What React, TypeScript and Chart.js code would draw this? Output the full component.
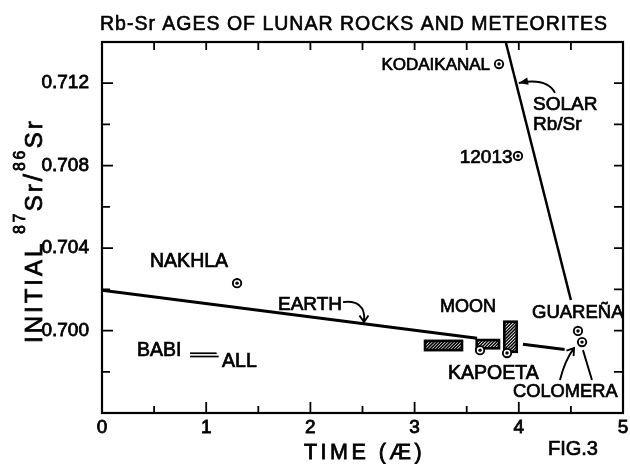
import React, { useEffect, useRef } from 'react';
import { Chart, registerables } from 'chart.js';

Chart.register(...registerables);

const FONT = "'Liberation Sans', Arial, sans-serif";

// ---- data (time in AE, initial 87Sr/86Sr) ----
const earthX1 = [0, 3.6];
const earthY1 = [0.70196, 0.69963];
const earthX2 = [4.04, 4.44];
const earthY2 = [0.69934, 0.69908];

const solarX = [3.877, 4.5];
const solarY = [0.71395, 0.70148];

const babiX = [0.845, 1.1];
const babiY = [0.6989, 0.6989];
const allX = [0.845, 1.12];
const allY = [0.69874, 0.69874];

const circleNames = ['KODAIKANAL', '12013', 'NAKHLA', 'KAPOETA', 'MOON', 'GUAREÑA', 'COLOMERA'];
const circleX = [3.81, 3.992, 1.296, 3.628, 3.887, 4.568, 4.607];
const circleY = [0.71293, 0.70847, 0.7023, 0.69905, 0.69891, 0.69998, 0.69944];

const boxX0 = [3.1, 3.596, 3.861];
const boxX1 = [3.455, 3.81, 3.98];
const boxY0 = [0.69905, 0.69914, 0.69897];
const boxY1 = [0.6995, 0.69954, 0.70043];

const xMin = 0;
const xMax = 5;
const yMin = 0.696;
const yMax = 0.714;

const titleText = 'Rb-Sr AGES OF LUNAR ROCKS AND METEORITES';
const xTitle = 'TIME (Æ)';

const labelText = ['KODAIKANAL', 'SOLAR', 'Rb/Sr', '12013', 'NAKHLA', 'EARTH', 'BABI', 'ALL', 'MOON', 'GUAREÑA', 'KAPOETA', 'COLOMERA', 'FIG.3'];
const labelX = [3.724, 4.136, 4.136, 3.94, 0.461, 1.689, 0.336, 1.152, 3.244, 4.127, 3.321, 3.944, 4.28];
const labelY = [0.71293, 0.71104, 0.71007, 0.70847, 0.7034, 0.70131, 0.69908, 0.69857, 0.70121, 0.70095, 0.69799, 0.69711, 0.69432];
const labelAlign = ['right', 'left', 'left', 'right', 'left', 'left', 'left', 'left', 'left', 'left', 'left', 'left', 'left'];
const labelSize = [17, 19, 19, 19, 19.5, 19, 19.5, 19.5, 18, 18.5, 19.5, 18.3, 20];

// arrows (data coordinates)
const earthArrow = [[2.313, 0.70138], [2.438, 0.70148], [2.534, 0.70119], [2.514, 0.70046]];
const solarArrow = [[4.347, 0.71153], [4.27, 0.71228], [4.0, 0.71201]];
const colomeraArrow = [[4.395, 0.6976], [4.443, 0.69857], [4.53, 0.69915]];
const colomeraLine = [[4.702, 0.6976], [4.616, 0.69905]];

function pts(xs: number[], ys: number[]) {
  return xs.map((x, i) => ({ x, y: ys[i] }));
}

function lineDs(xs: number[], ys: number[], w: number) {
  return {
    data: pts(xs, ys),
    showLine: true,
    borderColor: '#000',
    borderWidth: w,
    pointRadius: 0,
    fill: false,
  };
}

function arrowHead(ctx: CanvasRenderingContext2D, fx: number, fy: number, tx: number, ty: number, len: number, filled: boolean) {
  const a = Math.atan2(ty - fy, tx - fx);
  const sp = filled ? 0.38 : 0.6;
  const x1 = tx - len * Math.cos(a - sp);
  const y1 = ty - len * Math.sin(a - sp);
  const x2 = tx - len * Math.cos(a + sp);
  const y2 = ty - len * Math.sin(a + sp);
  ctx.beginPath();
  if (filled) {
    ctx.moveTo(tx, ty);
    ctx.lineTo(x1, y1);
    ctx.lineTo(x2, y2);
    ctx.closePath();
    ctx.fill();
  } else {
    ctx.moveTo(x1, y1);
    ctx.lineTo(tx, ty);
    ctx.lineTo(x2, y2);
    ctx.stroke();
  }
}

function boldText(ctx: CanvasRenderingContext2D, txt: string, x: number, y: number, w: number) {
  ctx.fillText(txt, x, y);
  ctx.lineWidth = w;
  ctx.strokeText(txt, x, y);
}

const annotPlugin = {
  id: 'annot',
  beforeDatasetsDraw(chart: any) {
    const { ctx } = chart;
    const xs = chart.scales.x;
    const ys = chart.scales.y;
    ctx.save();
    for (let i = 0; i < boxX0.length; i++) {
      const l = xs.getPixelForValue(boxX0[i]);
      const r = xs.getPixelForValue(boxX1[i]);
      const t = ys.getPixelForValue(boxY1[i]);
      const b = ys.getPixelForValue(boxY0[i]);
      ctx.fillStyle = '#fff';
      ctx.fillRect(l, t, r - l, b - t);
      ctx.save();
      ctx.beginPath();
      ctx.rect(l, t, r - l, b - t);
      ctx.clip();
      ctx.strokeStyle = '#000';
      ctx.lineWidth = 1.5;
      for (let k = -60; k < (r - l) + 60; k += 3.2) {
        ctx.beginPath();
        ctx.moveTo(l + k, b);
        ctx.lineTo(l + k + (b - t), t);
        ctx.stroke();
      }
      ctx.restore();
      ctx.strokeStyle = '#000';
      ctx.lineWidth = 2.6;
      ctx.strokeRect(l, t, r - l, b - t);
    }
    ctx.restore();
  },
  afterDraw(chart: any) {
    const { ctx, chartArea } = chart;
    const xs = chart.scales.x;
    const ys = chart.scales.y;
    const X = (v: number) => xs.getPixelForValue(v);
    const Y = (v: number) => ys.getPixelForValue(v);
    ctx.save();
    ctx.strokeStyle = '#000';
    ctx.fillStyle = '#000';
    // frame
    ctx.lineWidth = 2.2;
    ctx.strokeRect(chartArea.left, chartArea.top, chartArea.right - chartArea.left, chartArea.bottom - chartArea.top);
    // inward tick marks
    ctx.lineWidth = 1.8;
    xs.ticks.forEach((t: any) => {
      const v = t.value;
      const px = X(v);
      const major = Math.abs(v - Math.round(v)) < 1e-9;
      if (v <= xMin || v >= xMax) return;
      ctx.beginPath();
      ctx.moveTo(px, chartArea.bottom);
      ctx.lineTo(px, chartArea.bottom - (major ? 11 : 7));
      ctx.moveTo(px, chartArea.top);
      ctx.lineTo(px, chartArea.top + 8);
      ctx.stroke();
    });
    ys.ticks.forEach((t: any) => {
      const v = t.value;
      const py = Y(v);
      const m = Math.round(v * 1000);
      if (v <= yMin + 1e-9 || v >= yMax - 1e-9) return;
      const major = m % 4 === 0;
      ctx.beginPath();
      ctx.moveTo(chartArea.left, py);
      ctx.lineTo(chartArea.left + (major ? 11 : 8), py);
      ctx.moveTo(chartArea.right, py);
      ctx.lineTo(chartArea.right - 9, py);
      ctx.stroke();
    });

    // arrows
    ctx.lineWidth = 1.9;
    {
      const p = earthArrow.map(([a, b]) => [X(a), Y(b)]);
      ctx.beginPath();
      ctx.moveTo(p[0][0], p[0][1]);
      ctx.bezierCurveTo(p[1][0], p[1][1], p[2][0], p[2][1], p[3][0], p[3][1]);
      ctx.stroke();
      arrowHead(ctx, p[3][0], p[3][1] - 8, p[3][0], p[3][1] + 1, 8, false);
    }
    {
      const p = solarArrow.map(([a, b]) => [X(a), Y(b)]);
      ctx.beginPath();
      ctx.moveTo(p[0][0], p[0][1]);
      ctx.quadraticCurveTo(p[1][0], p[1][1], p[2][0], p[2][1]);
      ctx.stroke();
      arrowHead(ctx, p[1][0], p[1][1], p[2][0], p[2][1], 10, true);
    }
    {
      const p = colomeraArrow.map(([a, b]) => [X(a), Y(b)]);
      ctx.beginPath();
      ctx.moveTo(p[0][0], p[0][1]);
      ctx.quadraticCurveTo(p[1][0], p[1][1], p[2][0], p[2][1]);
      ctx.stroke();
      arrowHead(ctx, p[1][0], p[1][1], p[2][0], p[2][1], 8, false);
      const q = colomeraLine.map(([a, b]) => [X(a), Y(b)]);
      ctx.beginPath();
      ctx.moveTo(q[0][0], q[0][1]);
      ctx.lineTo(q[1][0], q[1][1]);
      ctx.stroke();
    }

    // labels
    ctx.textBaseline = 'alphabetic';
    for (let i = 0; i < labelText.length; i++) {
      const s = labelSize[i];
      ctx.font = `${s}px ${FONT}`;
      ctx.textAlign = labelAlign[i] as CanvasTextAlign;
      boldText(ctx, labelText[i], X(labelX[i]), Y(labelY[i]) + 0.358 * s, 0.7);
    }

    // chart title
    (ctx as any).letterSpacing = '1px';
    ctx.font = `19.5px ${FONT}`;
    ctx.textAlign = 'left';
    boldText(ctx, titleText, 100, 30, 0.6);

    // x axis title
    (ctx as any).letterSpacing = '3.5px';
    ctx.font = `21.5px ${FONT}`;
    ctx.textAlign = 'center';
    boldText(ctx, xTitle, X((xMin + xMax) / 2) + 2, 458.5, 0.8);

    // y axis title with superscripts
    ctx.translate(42, 343);
    ctx.rotate(-Math.PI / 2);
    ctx.textAlign = 'left';
    let cx = 0;
    const parts: [string, number, number, number][] = [
      ['INITIAL', 24, 0, 3],
      [' ', 24, 0, 0],
      ['87', 16, -17, 2.5],
      ['Sr', 24, 0, 3],
      ['/', 26, 0, 3],
      ['86', 16, -17, 2.5],
      ['Sr', 24, 0, 3],
    ];
    parts.forEach(([txt, size, dy, sp]) => {
      (ctx as any).letterSpacing = `${sp}px`;
      ctx.font = `${size}px ${FONT}`;
      boldText(ctx, txt, cx, dy, 0.8);
      cx += ctx.measureText(txt).width;
    });
    (ctx as any).letterSpacing = '0px';
    ctx.restore();
  },
};

export default function App() {
  const ref = useRef<HTMLCanvasElement | null>(null);
  useEffect(() => {
    document.body.style.margin = '0';
    const canvas = ref.current;
    if (!canvas) return;
    const chart = new Chart(canvas, {
      type: 'scatter',
      data: {
        datasets: [
          {
            label: 'centres',
            data: pts(circleX, circleY),
            showLine: false,
            pointRadius: 1.7,
            pointBorderWidth: 0,
            pointBackgroundColor: '#000',
          } as any,
          {
            label: 'samples',
            data: pts(circleX, circleY),
            showLine: false,
            pointRadius: 4.2,
            pointBorderWidth: 1.9,
            pointBorderColor: '#000',
            pointBackgroundColor: '#fff',
          } as any,
          lineDs(earthX1, earthY1, 3),
          lineDs(earthX2, earthY2, 3),
          lineDs(solarX, solarY, 2.5),
          lineDs(babiX, babiY, 1.7),
          lineDs(allX, allY, 1.7),
        ],
      },
      options: {
        animation: false,
        responsive: false,
        events: [],
        layout: { padding: { top: 42, right: 7, left: 0, bottom: 0 } },
        plugins: {
          legend: { display: false },
          tooltip: { enabled: false },
          title: { display: false },
        },
        scales: {
          x: {
            type: 'linear',
            min: xMin,
            max: xMax,
            grid: { display: false },
            border: { display: false },
            ticks: {
              stepSize: 0.5,
              autoSkip: false,
              maxRotation: 0,
              color: '#000',
              textStrokeColor: '#000',
              textStrokeWidth: 0.8,
              padding: -5,
              font: { family: FONT, size: 19 },
              callback: (v: any) => (Math.abs(v - Math.round(v)) < 1e-9 ? String(Math.round(v)) : ''),
            },
            afterFit: (s: any) => {
              s.height = 51;
            },
          },
          y: {
            type: 'linear',
            min: yMin,
            max: yMax,
            grid: { display: false },
            border: { display: false },
            ticks: {
              stepSize: 0.002,
              autoSkip: false,
              color: '#000',
              textStrokeColor: '#000',
              textStrokeWidth: 0.8,
              padding: 5,
              font: { family: FONT, size: 19 },
              callback: (v: any) => {
                const m = Math.round(v * 1000);
                return m % 4 === 0 && m >= 700 && m < 714 ? (m / 1000).toFixed(3) : '';
              },
            },
            afterFit: (s: any) => {
              s.width = 102;
            },
          },
        },
      },
      plugins: [annotPlugin],
    } as any);
    return () => chart.destroy();
  }, []);
  return <canvas ref={ref} width={630} height={464} style={{ display: 'block', width: 630, height: 464 }} />;
}
